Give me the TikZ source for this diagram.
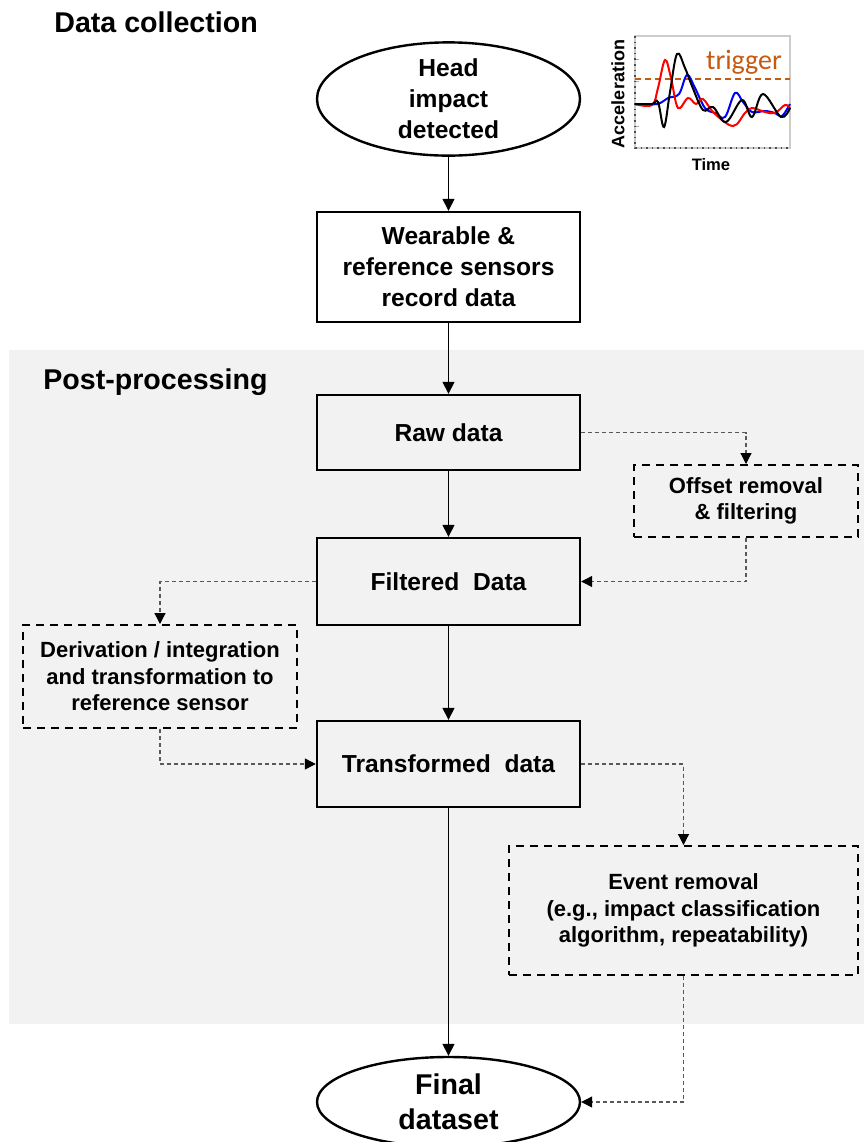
\documentclass[tikz,border=0pt]{standalone}
\usepackage{fontspec}
\setmainfont{Liberation Sans}
\newfontfamily\calib{Carlito}
\usepackage{xcolor}
\usepackage{tikz}
\usetikzlibrary{shapes.geometric,arrows.meta,positioning,calc}
\definecolor{panel}{HTML}{f2f2f2}
\definecolor{trig}{HTML}{c55a11}
\definecolor{link}{HTML}{595959}
\definecolor{sigred}{HTML}{ff0000}
\definecolor{sigblue}{HTML}{0000ff}

\tikzset{
  stepbox/.style={draw,line width=1.2pt,inner sep=0pt,align=center,
    font=\bfseries\fontsize{12.3}{15.5}\selectfont},
  endpoint/.style={stepbox,ellipse},
  optbox/.style={draw,line width=1pt,dash pattern=on 4pt off 3pt,inner sep=0pt,
    align=center,font=\bfseries\fontsize{11}{13.2}\selectfont},
  flow/.style={line width=0.75pt,-{Triangle[length=6pt,width=6pt]}},
  aux/.style={link,line width=0.6pt,dash pattern=on 2pt off 1.5pt,
    -{Triangle[length=5.5pt,width=5.5pt,color=black]}},
  heading/.style={anchor=west,inner sep=0pt,font=\bfseries\fontsize{14.3}{17}\selectfont},
}

\begin{document}
\begin{tikzpicture}[x=0.5pt,y=-0.5pt]
    \useasboundingbox (0,0) rectangle (864,1142);
    % grey panel behind the post-processing steps
    \fill[panel] (9,350) rectangle (864,1024);

    \node[heading] (tcoll) at (54,22) {Data collection};
    \node[heading] (tpost) at (43,382) {Post-processing};

    % main chain
    \node[endpoint,minimum width=131.5pt,minimum height=51pt] (head) at (448.5,99)
        {Head\\impact\\detected};
    \node[stepbox,minimum width=131.5pt,minimum height=55pt] (wear) at (448.5,267)
        {Wearable \&\\reference sensors\\record data};
    \node[stepbox,minimum width=131.5pt,minimum height=37.5pt] (raw) at (448.5,432.5)
        {Raw data};
    \node[stepbox,minimum width=131.5pt,minimum height=43.5pt] (filt) at (448.5,581.5)
        {Filtered\ \ Data};
    \node[stepbox,minimum width=131.5pt,minimum height=43pt] (trans) at (448.5,764)
        {Transformed\ \ data};
    \node[endpoint,minimum width=131.5pt,minimum height=45pt,
          font=\bfseries\fontsize{14.3}{17.5}\selectfont] (final) at (448.5,1102)
        {Final\\dataset};

    % side steps
    \node[optbox,minimum width=112pt,minimum height=36pt] (offset) at (746,501)
        {Offset removal\\\& filtering};
    \node[optbox,minimum width=137pt,minimum height=51.5pt] (deriv) at (160,676.5)
        {Derivation / integration\\and transformation to\\reference sensor};
    \node[optbox,minimum width=174.5pt,minimum height=64.5pt] (event) at (683.5,910.5)
        {Event removal\\(e.g., impact classification\\algorithm, repeatability)};

    \draw[flow] (head) -- (wear);
    \draw[flow] (wear) -- (raw);
    \draw[flow] (raw) -- (filt);
    \draw[flow] (filt) -- (trans);
    \draw[flow] (trans) -- (final);

    \draw[aux] (raw.east) -| (offset.north);
    \draw[aux] (offset.south) |- (filt.east);
    \draw[aux] (filt.west) -| (deriv.north);
    \draw[aux] (deriv.south) |- (trans.west);
    \draw[aux] (trans.east) -| (event.north);
    \draw[aux] (event.south) |- (final.east);

    % small trigger plot
    \draw[gray!40,line width=0.6pt] (635,36) rectangle (790,148);
    \foreach \yy in {59,81,104,126} {
        \draw[gray!70,line width=0.5pt] (635,\yy) -- (639,\yy);
    }
    \draw[black!70,line width=0.8pt,dotted] (635,36) -- (635,148) -- (790,148);
    \draw[trig,line width=1pt,dash pattern=on 3pt off 2pt] (635,79) -- (790,79);
    \node[text=trig,font=\calib\fontsize{14}{16}\selectfont,inner sep=0pt] (trigger) at (744,62) {trigger};
    \draw[sigblue,line width=1pt] plot[smooth,tension=0.6] coordinates {
        (635,104) (657,104) (668,98) (679,94) (687,75) (695,88) (705,108)
        (715,113) (725,117) (735,93) (743,102) (752,112) (765,111) (775,113)
        (782,116) (790,104)};
    \draw[sigred,line width=1pt] plot[smooth,tension=0.6] coordinates {
        (635,104) (652,105) (658,88) (665,60) (671,78) (678,108) (688,98)
        (696,104) (703,99) (714,113) (733,126) (745,113) (752,108) (765,112)
        (775,113) (785,105) (790,108)};
    \draw[black,line width=1pt] plot[smooth,tension=0.6] coordinates {
        (635,104) (652,104) (658,102) (664,127) (670,92) (677,54) (685,68)
        (692,86) (703,110) (713,107) (726,122) (742,100) (752,117) (763,94)
        (781,117) (790,108)};
    \node[rotate=90,font=\bfseries\fontsize{9}{10}\selectfont,inner sep=0pt] (yaxis) at (618,94) {Acceleration};
    \node[font=\bfseries\fontsize{8.3}{10}\selectfont,inner sep=0pt] (xaxis) at (711,165) {Time};
\end{tikzpicture}
\end{document}
